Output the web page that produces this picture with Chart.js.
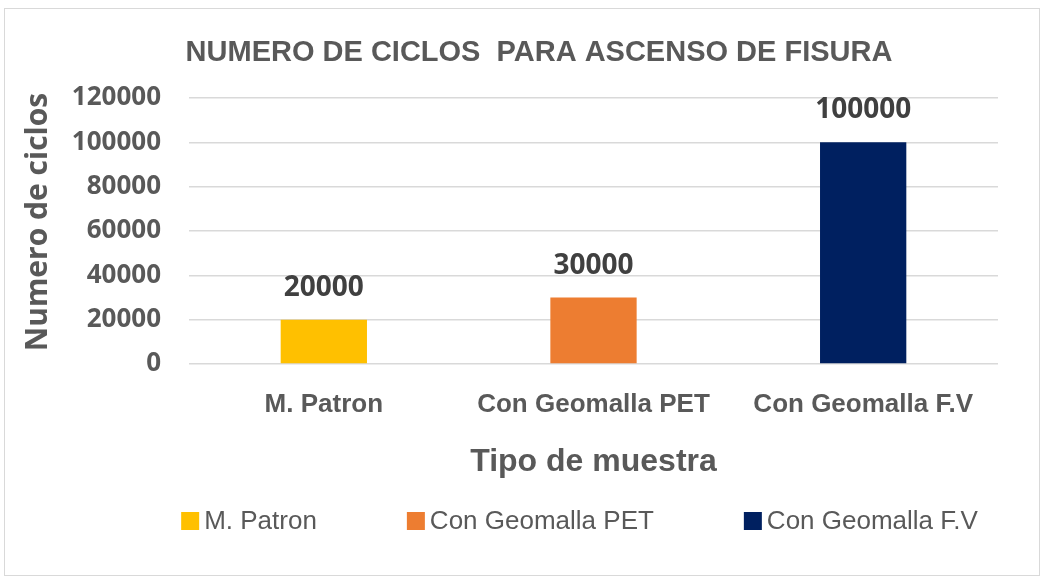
<!DOCTYPE html>
<html>
<head>
<meta charset="utf-8">
<script src="https://cdn.jsdelivr.net/npm/chart.js@4.4.1/dist/chart.umd.min.js"></script>
<style>
  html, body { margin: 0; padding: 0; background: #fff; }
  #wrap { width: 1045px; height: 579px; }
</style>
</head>
<body>
<div id="wrap"><canvas id="ciclosChart"></canvas></div>
<script>
const categorias = ['M. Patron', 'Con Geomalla PET', 'Con Geomalla F.V'];
const ciclos = [20000, 30000, 100000];
const colores = ['#FFC000', '#ED7D31', '#002060'];
const ticksY = [0, 20000, 40000, 60000, 80000, 100000, 120000];

const titulo = 'NUMERO DE CICLOS  PARA ASCENSO DE FISURA';
const tituloY = 'Numero de ciclos';
const tituloX = 'Tipo de muestra';

const NARROW = '"Liberation Sans", Arial, sans-serif';
const SANS = '"Open Sans", sans-serif';
const GRIS = '#595959';

// fondo blanco y marco gris del grafico
const marco = {
    id: 'marco',
    beforeDraw(chart) {
        const c = chart.ctx;
        c.save();
        c.fillStyle = '#fff';
        c.fillRect(0, 0, chart.width, chart.height);
        c.strokeStyle = '#D9D9D9';
        c.lineWidth = 1;
        c.strokeRect(4.5, 8.5, chart.width - 10, chart.height - 12);
        c.restore();
    }
};

// titulo general y titulo del eje vertical
const titulos = {
    id: 'titulos',
    afterDraw(chart) {
        const c = chart.ctx;
        c.save();
        c.fillStyle = GRIS;
        c.textAlign = 'center';
        c.textBaseline = 'middle';
        c.font = 'bold 29px ' + NARROW;
        c.fillText(titulo, 539, 53);
        c.translate(38, 222);
        c.rotate(-Math.PI / 2);
        c.font = 'bold 30px ' + SANS;
        c.fillText(tituloY, 0, 0);
        c.restore();
    }
};

// valor encima de cada barra
const etiquetas = {
    id: 'etiquetas',
    afterDatasetsDraw(chart) {
        const c = chart.ctx;
        const meta = chart.getDatasetMeta(0);
        c.save();
        c.font = 'bold 28px ' + SANS;
        c.fillStyle = '#404040';
        c.textAlign = 'center';
        c.textBaseline = 'alphabetic';
        meta.data.forEach((bar, i) => {
            c.fillText(String(ciclos[i]), bar.x, bar.y - 24);
        });
        c.restore();
    }
};

// leyenda abajo, una entrada por categoria
const leyenda = {
    id: 'leyenda',
    afterDraw(chart) {
        const c = chart.ctx;
        const caja = 18, hueco = 5, sep = 90, y = 521;
        c.save();
        c.font = '26px ' + NARROW;
        c.textBaseline = 'middle';
        const anchos = categorias.map(t => caja + hueco + c.measureText(t).width);
        const total = anchos.reduce((a, b) => a + b, 0) + sep * (categorias.length - 1);
        const centro = (chart.chartArea.left + chart.chartArea.right) / 2 - 14;
        let x = centro - total / 2;
        categorias.forEach((t, i) => {
            c.fillStyle = colores[i];
            c.fillRect(x, y - caja / 2, caja, caja);
            c.fillStyle = GRIS;
            c.fillText(t, x + caja + hueco, y + 1);
            x += anchos[i] + sep;
        });
        c.restore();
    }
};

const ctx = document.getElementById('ciclosChart').getContext('2d');
const chart = new Chart(ctx, {
    type: 'bar',
    data: {
        labels: categorias,
        datasets: [{
            label: tituloY,
            data: ciclos,
            backgroundColor: colores,
            borderWidth: 0,
            categoryPercentage: 1,
            barPercentage: 0.32
        }]
    },
    options: {
        responsive: true,
        maintainAspectRatio: false,
        animation: false,
        layout: { padding: { left: 16, right: 47, top: 98, bottom: 95 } },
        plugins: {
            legend: { display: false },
            tooltip: { enabled: false },
            title: { display: false }
        },
        scales: {
            x: {
                grid: { display: false, drawTicks: false },
                border: { display: false },
                ticks: {
                    color: GRIS,
                    padding: 25,
                    font: { family: NARROW, size: 26, weight: 'bold' }
                },
                title: {
                    display: true,
                    text: tituloX,
                    color: GRIS,
                    font: { family: NARROW, size: 32, weight: 'bold' },
                    padding: { top: 0, bottom: 3 }
                },
                afterFit(scale) { scale.height = 120; }
            },
            y: {
                min: 0,
                max: 120000,
                grid: { color: '#D9D9D9', lineWidth: 1.5, drawTicks: false },
                border: { display: false },
                afterBuildTicks(scale) {
                    scale.ticks = ticksY.map(v => ({ value: v }));
                },
                ticks: {
                    color: GRIS,
                    padding: 28,
                    font: { family: SANS, size: 26, weight: 'bold' },
                    callback: v => String(v)
                },
                afterFit(scale) { scale.width = 173; }
            }
        }
    },
    plugins: [marco, titulos, etiquetas, leyenda]
});
</script>
</body>
</html>
